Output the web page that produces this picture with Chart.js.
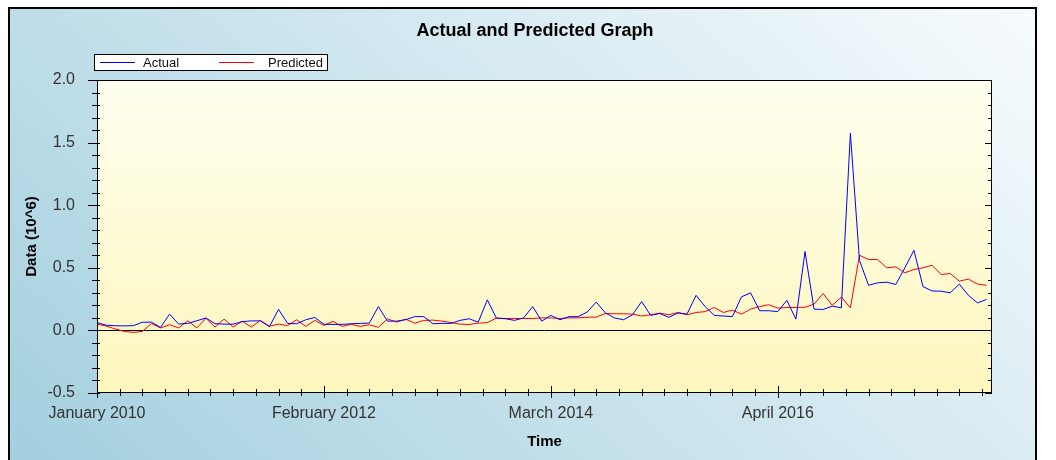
<!DOCTYPE html>
<html>
<head>
<meta charset="utf-8">
<script src="https://cdn.jsdelivr.net/npm/chart.js@4.4.0/dist/chart.umd.min.js"></script>
<style>
  html, body { margin: 0; padding: 0; background: #fff; }
</style>
</head>
<body>
<canvas id="chart" width="1056" height="460"></canvas>
<script>
// monthly points, Jan 2010 .. Mar 2018 (values in 10^6)
const actual = [
  0.062, 0.042, 0.037, 0.036, 0.038, 0.065, 0.066, 0.024, 0.13, 0.05,
  0.056, 0.077, 0.099, 0.054, 0.05, 0.05, 0.07, 0.076, 0.076, 0.03,
  0.168, 0.056, 0.053, 0.085, 0.103, 0.049, 0.048, 0.048, 0.053, 0.056,
  0.058, 0.19, 0.074, 0.074, 0.085, 0.11, 0.11, 0.053, 0.056, 0.056,
  0.08, 0.093, 0.066, 0.244, 0.098, 0.093, 0.08, 0.1, 0.19, 0.074,
  0.12, 0.085, 0.11, 0.11, 0.146, 0.226, 0.14, 0.1, 0.085, 0.125,
  0.23, 0.12, 0.135, 0.104, 0.14, 0.13, 0.28, 0.19, 0.12, 0.115,
  0.11, 0.268, 0.3, 0.157, 0.157, 0.15, 0.24, 0.09, 0.63, 0.17,
  0.167, 0.194, 0.18, 1.575, 0.56, 0.36, 0.38, 0.385, 0.367, 0.5,
  0.64, 0.35, 0.315, 0.313, 0.3, 0.37, 0.28, 0.22, 0.247
];
const predicted = [
  0.05, 0.035, 0.012, -0.008, -0.016, -0.008, 0.055, 0.02, 0.045, 0.02,
  0.077, 0.02, 0.097, 0.027, 0.09, 0.027, 0.073, 0.027, 0.08, 0.033,
  0.05, 0.038, 0.085, 0.032, 0.08, 0.04, 0.072, 0.032, 0.048, 0.032,
  0.045, 0.025, 0.092, 0.066, 0.09, 0.058, 0.08, 0.082, 0.074, 0.062,
  0.05, 0.047, 0.058, 0.062, 0.098, 0.095, 0.095, 0.095, 0.095, 0.1,
  0.1, 0.095, 0.1, 0.1, 0.105, 0.106, 0.135, 0.133, 0.133, 0.13,
  0.115, 0.125, 0.138, 0.125, 0.143, 0.125, 0.143, 0.15, 0.183, 0.143,
  0.162, 0.13, 0.17, 0.19, 0.205, 0.178, 0.183, 0.183, 0.185, 0.21,
  0.295, 0.2, 0.266, 0.18, 0.6, 0.566, 0.566, 0.5, 0.507, 0.46,
  0.486, 0.5, 0.52, 0.446, 0.454, 0.393, 0.41, 0.37, 0.36
];
const tickLabels = ["January 2010", "February 2012", "March 2014", "April 2016"];
const labelEvery = 25;   // months between labelled ticks
const yTicksMajor = 0.5;

Chart.defaults.font.family = "'Liberation Sans', Arial, sans-serif";

const near = (a, b) => Math.abs(a - b) < 1e-6;

// background, frame, plot box, custom ticks, title and legend
const decor = {
  id: "decor",
  beforeDraw(chart) {
    const { ctx, chartArea: a } = chart;
    ctx.save();
    ctx.fillStyle = "#fff";
    ctx.fillRect(0, 0, chart.width, chart.height);
    const g = ctx.createLinearGradient(0, 460, 700, -300);
    g.addColorStop(0, "#a3cfdf");
    g.addColorStop(1, "#f7fbfd");
    ctx.fillStyle = g;
    ctx.fillRect(8, 7, 1029, 453);
    ctx.strokeStyle = "#000";
    ctx.lineWidth = 2;
    ctx.beginPath();
    ctx.moveTo(9, 460); ctx.lineTo(9, 8); ctx.lineTo(1036, 8); ctx.lineTo(1036, 460);
    ctx.stroke();

    const py = ctx.createLinearGradient(0, a.top, 0, a.bottom);
    py.addColorStop(0, "#fffff0");
    py.addColorStop(1, "#fdf6bd");
    ctx.fillStyle = py;
    ctx.fillRect(a.left, a.top, a.right - a.left, a.bottom - a.top);
    ctx.restore();
  },
  beforeDatasetsDraw(chart) {
    const { ctx, chartArea: a, scales: { y } } = chart;
    ctx.save();
    ctx.strokeStyle = "#000";
    ctx.lineWidth = 1;
    const z = Math.round(y.getPixelForValue(0)) + 0.5;
    ctx.beginPath();
    ctx.moveTo(a.left, z); ctx.lineTo(a.right, z);
    ctx.stroke();
    ctx.restore();
  },
  afterDraw(chart) {
    const { ctx, chartArea: a, scales: { x, y } } = chart;
    ctx.save();
    ctx.strokeStyle = "#000";
    ctx.lineWidth = 1;
    ctx.strokeRect(a.left + 0.5, a.top + 0.5, a.right - a.left - 1, a.bottom - a.top - 1);

    ctx.beginPath();
    y.ticks.forEach(t => {
      const p = Math.round(y.getPixelForValue(t.value)) + 0.5;
      const major = near(t.value / yTicksMajor, Math.round(t.value / yTicksMajor));
      ctx.moveTo(a.left - (major ? 9 : 5), p); ctx.lineTo(a.left + 3, p);
      ctx.moveTo(a.right - (major ? 7 : 4), p); ctx.lineTo(a.right, p);
    });
    x.ticks.forEach(t => {
      const p = Math.round(x.getPixelForValue(t.value)) + 0.5;
      const major = near(t.value / labelEvery, Math.round(t.value / labelEvery));
      ctx.moveTo(p, a.bottom - (major ? 7 : 4)); ctx.lineTo(p, a.bottom + (major ? 5 : 3));
    });
    ctx.stroke();

    ctx.fillStyle = "#000";
    ctx.font = "bold 18px 'Liberation Sans', Arial, sans-serif";
    ctx.textAlign = "center";
    ctx.textBaseline = "middle";
    ctx.fillText("Actual and Predicted Graph", 535, 31);

    // legend box
    ctx.fillStyle = "#fff";
    ctx.fillRect(94, 54, 234, 17);
    ctx.strokeRect(94.5, 54.5, 233, 16);
    const ds = chart.data.datasets;
    const slots = [[100, 143], [219, 268]];
    ctx.font = "13px 'Liberation Sans', Arial, sans-serif";
    ctx.textAlign = "left";
    ds.forEach((d, i) => {
      const [lx, tx] = slots[i];
      ctx.strokeStyle = d.borderColor;
      ctx.beginPath();
      ctx.moveTo(lx, 62.5); ctx.lineTo(lx + 35, 62.5);
      ctx.stroke();
      ctx.fillStyle = "#111";
      ctx.fillText(d.label, tx, 63);
    });
    ctx.restore();
  }
};

new Chart(document.getElementById("chart"), {
  type: "line",
  data: {
    datasets: [
      {
        label: "Actual",
        data: actual.map((v, i) => ({ x: i, y: v })),
        borderColor: "#0000ff",
        borderWidth: 1,
        pointRadius: 0,
        tension: 0
      },
      {
        label: "Predicted",
        data: predicted.map((v, i) => ({ x: i, y: v })),
        borderColor: "#ff0000",
        borderWidth: 1,
        pointRadius: 0,
        tension: 0
      }
    ]
  },
  options: {
    responsive: false,
    devicePixelRatio: 1,
    animation: false,
    layout: { padding: { top: 80, right: 64, bottom: 0, left: 0 } },
    plugins: {
      legend: { display: false },
      title: { display: false },
      tooltip: { enabled: false }
    },
    scales: {
      x: {
        type: "linear",
        min: 0,
        max: 98.6,
        afterFit(s) { s.height = 67; },
        grid: { display: false, drawTicks: false },
        border: { display: false },
        ticks: {
          stepSize: 2.5,
          autoSkip: false,
          includeBounds: false,
          maxRotation: 0,
          padding: 11,
          color: "#333",
          font: { size: 16 },
          callback(v) {
            const k = v / labelEvery;
            return near(k, Math.round(k)) ? (tickLabels[Math.round(k)] || "") : "";
          }
        },
        title: {
          display: true,
          text: "Time",
          color: "#000",
          font: { size: 15, weight: "bold" },
          padding: { top: 0, bottom: 9 }
        }
      },
      y: {
        min: -0.5,
        max: 2.0,
        afterFit(s) { s.width = 97; },
        grid: { display: false, drawTicks: false },
        border: { display: false },
        ticks: {
          stepSize: 0.1,
          autoSkip: false,
          padding: 22,
          color: "#333",
          font: { size: 16 },
          callback(v) {
            if (Math.abs(v) < 1e-9) return "0.0";
            return near(v / yTicksMajor, Math.round(v / yTicksMajor)) ? v.toFixed(1) : "";
          }
        },
        title: {
          display: true,
          text: "Data (10^6)",
          color: "#000",
          font: { size: 15, weight: "bold" },
          padding: { top: 23, bottom: 0 }
        }
      }
    }
  },
  plugins: [decor]
});
</script>
</body>
</html>
